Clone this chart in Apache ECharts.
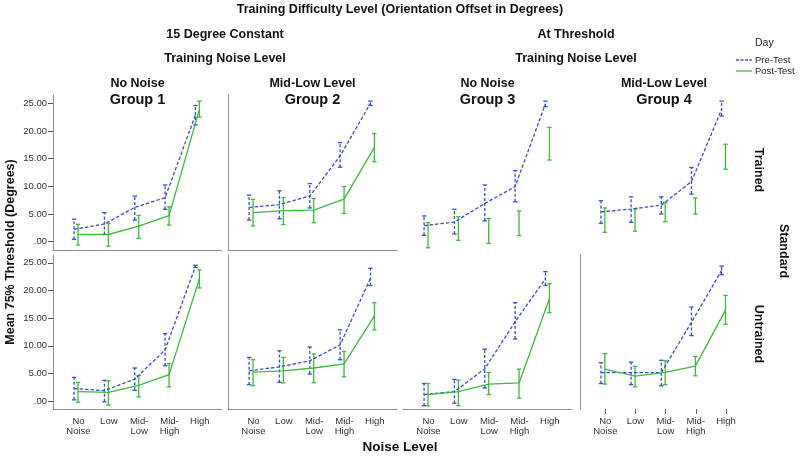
<!DOCTYPE html>
<html><head><meta charset="utf-8">
<script src="https://cdn.jsdelivr.net/npm/echarts@6/dist/echarts.min.js"></script>
<style>html,body{margin:0;padding:0;background:#fff}#c{width:800px;height:459px}</style>
</head><body><div id="c"></div><script>
// ---- data ----
const categories = ['No\nNoise', 'Low', 'Mid-\nLow', 'Mid-\nHigh', 'High'];
const yTicks = [0, 5, 10, 15, 20, 25];
const rowLabels = ['Trained', 'Untrained'];
const groupNames = ['Group 1', 'Group 2', 'Group 3', 'Group 4'];
const noiseNames = ['No Noise', 'Mid-Low Level', 'No Noise', 'Mid-Low Level'];
// each entry: [mean, lower error, upper error]
const g1TrainedPre = [[2.24,0.43,4.05],[3.2,1.3,5.25],[6.2,3.9,8.25],[7.95,5.85,10.25],[22.9,21.1,24.6]];
const g1TrainedPost = [[1.33,-0.6,3.14],[1.3,-0.8,3.3],[2.8,0.6,4.75],[4.7,3.0,6.3],[23.9,22.5,25.4]];
const g2TrainedPre = [[6.2,3.9,8.4],[6.7,4.15,9.2],[8.25,6.1,10.5],[15.5,13.45,17.9],[25.0,24.6,25.4]];
const g2TrainedPost = [[5.25,2.85,7.65],[5.6,3.1,7.95],[5.7,3.45,7.8],[7.7,5.1,9.95],[17.05,14.45,19.5]];
const g3TrainedPre = [[2.9,1.15,4.65],[3.55,1.4,5.85],[6.9,3.75,10.25],[9.95,7.2,12.85],[24.9,24.4,25.4]];
const g3TrainedPost = [[1.2,-1.1,3.45],[2.4,0.25,4.5],[1.95,-0.3,4.2],[3.3,1.1,5.55],[17.7,14.75,20.65]];
const g4TrainedPre = [[5.4,3.3,7.4],[5.9,3.5,8.1],[6.6,5.0,8.1],[10.85,8.6,13.4],[23.9,22.7,25.4]];
const g4TrainedPost = [[3.9,1.7,6.1],[3.9,1.9,5.9],[5.35,3.6,7.1],[6.45,5.0,7.9],[15.35,13.1,17.6]];
const g1UntrainedPre = [[2.28,0.25,4.3],[1.92,-0.1,3.77],[4.0,1.98,6.0],[9.27,6.4,12.2],[24.35,24.15,24.55]];
const g1UntrainedPost = [[1.74,-0.18,3.4],[1.6,-0.7,3.7],[2.87,0.79,4.66],[4.8,2.58,6.8],[22.1,20.45,23.7]];
const g2UntrainedPre = [[5.5,3.0,7.9],[6.2,3.4,9.1],[7.3,4.9,9.8],[10.17,7.5,12.9],[22.2,20.9,24.0]];
const g2UntrainedPost = [[5.27,2.8,7.5],[5.5,3.3,7.9],[6.0,3.35,8.55],[6.76,4.4,9.0],[15.4,12.9,17.8]];
const g3UntrainedPre = [[1.2,-0.8,3.2],[1.74,-0.35,3.95],[5.86,2.4,9.4],[14.35,11.25,17.8],[22.1,20.9,23.4]];
const g3UntrainedPost = [[1.2,-0.85,3.2],[1.74,-0.8,3.8],[3.1,1.2,5.2],[3.3,0.55,5.8],[18.5,16.0,21.2]];
const g4UntrainedPre = [[5.15,3.2,6.95],[5.15,3.0,7.06],[5.15,2.8,7.4],[14.25,11.85,17.0],[23.6,22.85,24.4]];
const g4UntrainedPost = [[5.8,3.1,8.6],[4.55,2.6,6.3],[5.2,3.0,7.3],[6.35,4.6,8.1],[16.45,13.9,19.1]];

// ---- layout ----
const PRE = '#3b4fc6', POST = '#3dba3d', AX = '#8f8f8f';
const FONT = '"Liberation Sans", Arial, sans-serif';
const cols = [[53,169],[228,169],[403,169],[580,168]];
const rows = [[95,155,-1.5,26.5],[255,154,-1.4,26.4]];
const panels = [
  {r:0,c:0,pre:g1TrainedPre,post:g1TrainedPost,postLine:true,xLine:true,yLine:true,yLab:true,xLab:false,xTick:false},
  {r:0,c:1,pre:g2TrainedPre,post:g2TrainedPost,postLine:true,xLine:true,yLine:true,yLab:false,xLab:false,xTick:false},
  {r:0,c:2,pre:g3TrainedPre,post:g3TrainedPost,postLine:false,xLine:false,yLine:false,yLab:false,xLab:false,xTick:false},
  {r:0,c:3,pre:g4TrainedPre,post:g4TrainedPost,postLine:false,xLine:false,yLine:false,yLab:false,xLab:false,xTick:false},
  {r:1,c:0,pre:g1UntrainedPre,post:g1UntrainedPost,postLine:true,xLine:true,yLine:true,yLab:true,xLab:true,xTick:false},
  {r:1,c:1,pre:g2UntrainedPre,post:g2UntrainedPost,postLine:true,xLine:true,yLine:true,yLab:false,xLab:true,xTick:false},
  {r:1,c:2,pre:g3UntrainedPre,post:g3UntrainedPost,postLine:true,xLine:true,yLine:false,yLab:false,xLab:true,xTick:false},
  {r:1,c:3,pre:g4UntrainedPre,post:g4UntrainedPost,postLine:true,xLine:false,yLine:true,yLab:false,xLab:true,xTick:true}
];
const OFF = 0.065;
const labelPos = categories.map((c, i) => i + 0.08);

function errRender(dash) {
  return function (params, api) {
    const x = api.value(0), lo = api.value(1), hi = api.value(2);
    const p1 = api.coord([x, lo]), p2 = api.coord([x, hi]);
    const color = api.visual('color');
    const cap = {stroke: color, lineWidth: 1.3};
    return {type: 'group', children: [
      {type: 'line', shape: {x1: p1[0], y1: p1[1], x2: p2[0], y2: p2[1]}, style: {stroke: color, lineWidth: 1.3, lineDash: dash}},
      {type: 'line', shape: {x1: p1[0]-2.2, y1: p1[1], x2: p1[0]+2.2, y2: p1[1]}, style: cap},
      {type: 'line', shape: {x1: p2[0]-2.2, y1: p2[1], x2: p2[0]+2.2, y2: p2[1]}, style: cap}
    ]};
  };
}

const grid = [], xAxis = [], yAxis = [], series = [];
panels.forEach((p, k) => {
  const [left, width] = cols[p.c];
  const [top, height, ymin, ymax] = rows[p.r];
  grid.push({left, top, width, height});
  xAxis.push({type: 'value', gridIndex: k, min: -0.76, max: 4.81,
    axisLine: {show: p.xLine, onZero: false, lineStyle: {color: AX, width: 1}},
    axisTick: {show: p.xTick, customValues: labelPos, length: 5, lineStyle: {color: '#666'}},
    axisLabel: {show: p.xLab, customValues: labelPos, formatter: v => categories[Math.round(v)],
      fontSize: 9.5, fontFamily: FONT, color: '#333', lineHeight: 10, margin: 7},
    splitLine: {show: false}});
  yAxis.push({type: 'value', gridIndex: k, min: ymin, max: ymax,
    axisLine: {show: p.yLine, onZero: false, lineStyle: {color: AX, width: 1}},
    axisTick: {show: p.yLab, customValues: yTicks, length: 5, lineStyle: {color: '#555'}},
    axisLabel: {show: p.yLab, customValues: yTicks, formatter: v => v === 0 ? '.00' : v.toFixed(2),
      fontSize: 9.5, fontFamily: FONT, color: '#333', margin: 6},
    splitLine: {show: false}});
  series.push({type: 'custom', xAxisIndex: k, yAxisIndex: k, renderItem: errRender([3, 2]),
    itemStyle: {color: PRE}, encode: {x: 0, y: [1, 2]}, z: 2,
    data: p.pre.map((d, i) => [i - OFF, d[1], d[2]])});
  series.push({type: 'custom', xAxisIndex: k, yAxisIndex: k, renderItem: errRender(null),
    itemStyle: {color: POST}, encode: {x: 0, y: [1, 2]}, z: 2,
    data: p.post.map((d, i) => [i + OFF, d[1], d[2]])});
  series.push({type: 'line', xAxisIndex: k, yAxisIndex: k, symbol: 'none', z: 3,
    lineStyle: {color: PRE, width: 1.3, type: [3.5, 2]}, itemStyle: {color: PRE},
    data: p.pre.map((d, i) => [i - OFF, d[0]])});
  if (p.postLine) series.push({type: 'line', xAxisIndex: k, yAxisIndex: k, symbol: 'none', z: 3,
    lineStyle: {color: POST, width: 1.3}, itemStyle: {color: POST},
    data: p.post.map((d, i) => [i + OFF, d[0]])});
});

function txt(text, x, y, size, opts) {
  opts = opts || {};
  return {type: 'text', x, y, rotation: opts.rot || 0, silent: true,
    style: {text, x: 0, y: 0, align: opts.align || 'center', verticalAlign: 'middle',
      font: (opts.bold === false ? '' : 'bold ') + size + 'px ' + FONT, fill: opts.fill || '#111'}};
}
const graphic = [
  txt('Training Difficulty Level (Orientation Offset in Degrees)', 400, 10, 12.5),
  txt('15 Degree Constant', 225, 35, 12.5),
  txt('Training Noise Level', 225, 59, 12.5),
  txt('At Threshold', 576, 35, 12.5),
  txt('Training Noise Level', 576, 59, 12.5),
  txt('Mean 75% Threshold (Degrees)', 11, 252, 12.5, {rot: Math.PI / 2}),
  txt('Noise Level', 400, 447, 13.5),
  txt(rowLabels[0], 758, 170, 12.5, {rot: -Math.PI / 2}),
  txt('Standard', 783, 251, 12.5, {rot: -Math.PI / 2}),
  txt(rowLabels[1], 758, 334, 12.5, {rot: -Math.PI / 2}),
  txt('Day', 755, 43, 10.5, {bold: false, align: 'left', fill: '#222'}),
  {type: 'line', shape: {x1: 736, y1: 60, x2: 752, y2: 60}, style: {stroke: PRE, lineWidth: 1.3, lineDash: [3, 1.5]}},
  txt('Pre-Test', 755, 60, 9.5, {bold: false, align: 'left', fill: '#222'}),
  {type: 'line', shape: {x1: 736, y1: 71, x2: 752, y2: 71}, style: {stroke: POST, lineWidth: 1.3}},
  txt('Post-Test', 755, 71, 9.5, {bold: false, align: 'left', fill: '#222'})
];
cols.forEach((c, i) => {
  const cx = c[0] + c[1] / 2;
  graphic.push(txt(noiseNames[i], cx, 84, 12.5));
  graphic.push(txt(groupNames[i], cx, 100, 14.5));
});

const chart = echarts.init(document.getElementById('c'), null, {renderer: 'canvas'});
chart.setOption({animation: false, backgroundColor: '#fff', grid, xAxis, yAxis, series, graphic});
</script></body></html>
